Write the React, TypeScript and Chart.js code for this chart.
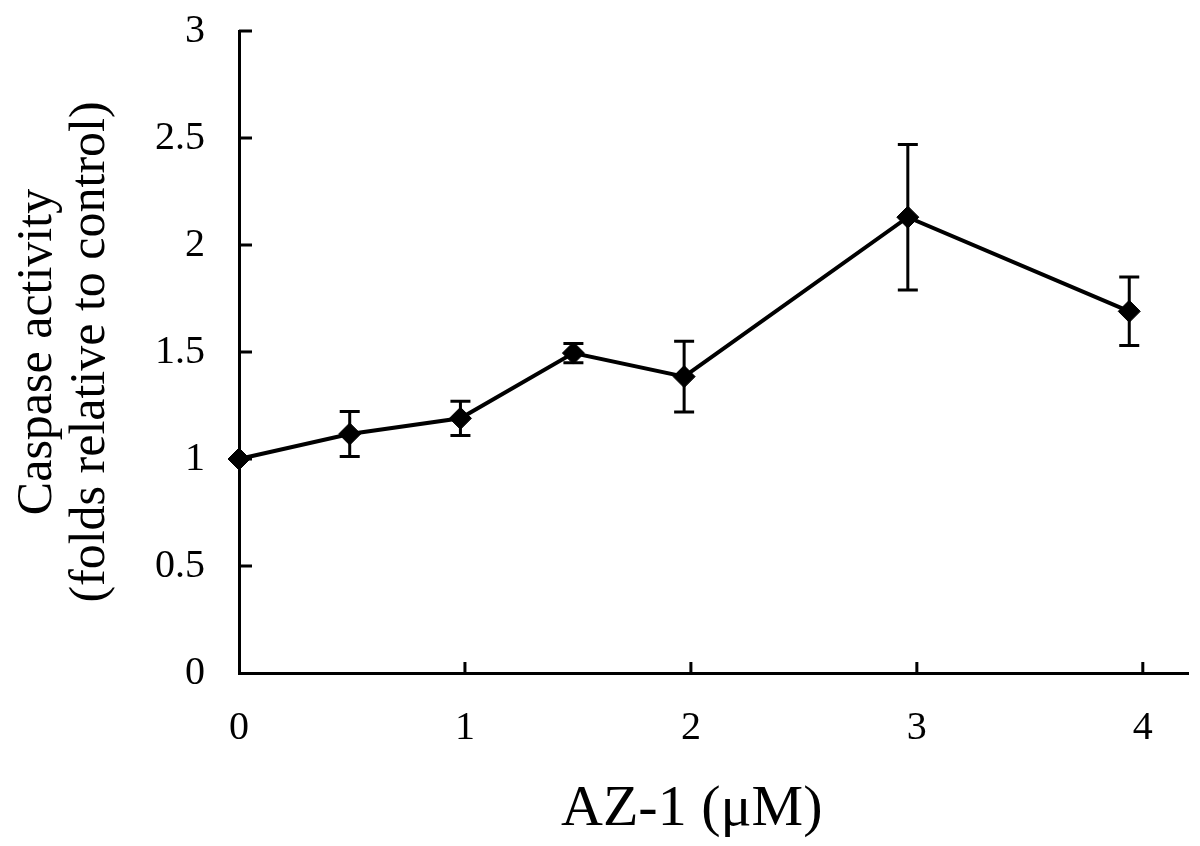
import React, { useEffect, useRef } from "react";
import { Chart, registerables } from "chart.js";

Chart.register(...registerables);

// Data
const doses = [0, 0.49, 0.98, 1.48, 1.97, 2.96, 3.94];
const activity = [1.0, 1.117, 1.19, 1.495, 1.385, 2.13, 1.69];
const errors = [0, 0.105, 0.08, 0.045, 0.165, 0.34, 0.16];
const xTicks = [0, 1, 2, 3, 4];
const yTicks = [0, 0.5, 1, 1.5, 2, 2.5, 3];
const xTitle = "AZ-1 (μM)";
const yTitle = ["Caspase activity", "(folds relative to control)"];

const FONT = "'Liberation Serif', 'Times New Roman', serif";

const errorBarsPlugin = {
  id: "errorBars",
  afterDatasetsDraw(chart: any) {
    const { ctx, scales } = chart;
    const x = scales.x;
    const y = scales.y;
    ctx.save();
    ctx.strokeStyle = "#000";
    ctx.lineWidth = 3;
    doses.forEach((d, i) => {
      const e = errors[i];
      if (!e) return;
      const px = x.getPixelForValue(d);
      const top = y.getPixelForValue(activity[i] + e);
      const bot = y.getPixelForValue(activity[i] - e);
      ctx.beginPath();
      ctx.moveTo(px, top);
      ctx.lineTo(px, bot);
      ctx.moveTo(px - 10, top);
      ctx.lineTo(px + 10, top);
      ctx.moveTo(px - 10, bot);
      ctx.lineTo(px + 10, bot);
      ctx.stroke();
    });
    ctx.restore();
  },
};

const inwardTicksPlugin = {
  id: "inwardTicks",
  beforeDatasetsDraw(chart: any) {
    const { ctx, scales, chartArea } = chart;
    const x = scales.x;
    const y = scales.y;
    ctx.save();
    ctx.strokeStyle = "#000";
    ctx.lineWidth = 3;
    ctx.beginPath();
    yTicks.forEach((v) => {
      if (v === 0) return;
      const py = y.getPixelForValue(v);
      ctx.moveTo(chartArea.left, py);
      ctx.lineTo(chartArea.left + 13, py);
    });
    xTicks.forEach((v) => {
      if (v === 0) return;
      const px = x.getPixelForValue(v);
      ctx.moveTo(px, chartArea.bottom);
      ctx.lineTo(px, chartArea.bottom - 11);
    });
    ctx.stroke();
    ctx.restore();
  },
};

export default function App() {
  const canvasRef = useRef<HTMLCanvasElement | null>(null);

  useEffect(() => {
    const canvas = canvasRef.current;
    if (!canvas) return;
    const chart = new Chart(canvas, {
      type: "scatter",
      data: {
        datasets: [
          {
            data: doses.map((d, i) => ({ x: d, y: activity[i] })),
            showLine: true,
            borderColor: "#000",
            backgroundColor: "#000",
            borderWidth: 4,
            pointStyle: "rectRot",
            pointRadius: 11,
            pointBorderWidth: 1,
            pointBackgroundColor: "#000",
            pointBorderColor: "#000",
            clip: false,
            tension: 0,
          } as any,
        ],
      },
      options: {
        responsive: false,
        animation: false,
        events: [],
        layout: { padding: { top: 31, right: 6, left: 0, bottom: 0 } },
        plugins: {
          legend: { display: false },
          tooltip: { enabled: false },
        },
        scales: {
          x: {
            type: "linear",
            min: 0,
            max: 4.2,
            afterBuildTicks: (scale: any) => {
              scale.ticks = xTicks.map((v) => ({ value: v }));
            },
            afterFit: (scale: any) => {
              scale.height = 173;
              scale.paddingLeft = 0;
              scale.paddingRight = 0;
            },
            grid: { display: false, drawTicks: false },
            border: { display: true, color: "#000", width: 3 },
            ticks: {
              color: "#000",
              padding: 31,
              maxRotation: 0,
              font: { family: FONT, size: 40 },
              callback: (v: any) => String(v),
            },
            title: {
              display: true,
              // trailing spaces shift the centred title slightly left, as in the reference
              text: xTitle + "   ",
              color: "#000",
              font: { family: FONT, size: 58, lineHeight: 1.2 },
              padding: { top: 0, bottom: 1 },
            },
          },
          y: {
            type: "linear",
            min: 0,
            max: 3,
            afterBuildTicks: (scale: any) => {
              scale.ticks = yTicks.map((v) => ({ value: v }));
            },
            afterFit: (scale: any) => {
              scale.width = 239;
              scale.paddingTop = 0;
              scale.paddingBottom = 0;
            },
            grid: { display: false, drawTicks: false },
            border: { display: true, color: "#000", width: 3 },
            ticks: {
              color: "#000",
              padding: 34,
              font: { family: FONT, size: 40 },
              callback: (v: any) => String(v),
            },
            title: {
              display: true,
              text: yTitle,
              color: "#000",
              font: { family: FONT, size: 50, lineHeight: 1.05 },
              padding: { top: 12, bottom: 0 },
            },
          },
        },
      },
      plugins: [inwardTicksPlugin, errorBarsPlugin],
    });
    return () => chart.destroy();
  }, []);

  return (
    <div
      style={{
        position: "fixed",
        left: 0,
        top: 0,
        width: 1200,
        height: 846,
        background: "#fff",
      }}
    >
      <canvas ref={canvasRef} width={1200} height={846} />
    </div>
  );
}
